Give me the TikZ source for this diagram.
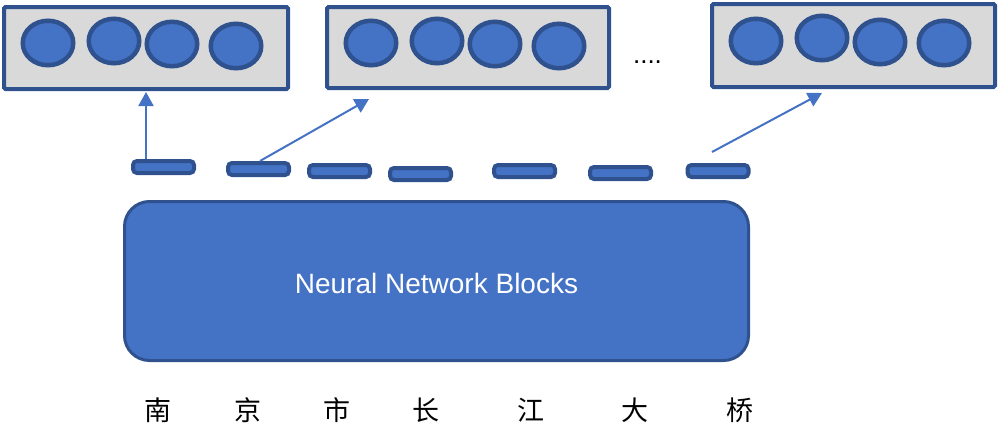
\documentclass[tikz,border=0pt]{standalone}
\usepackage{fontspec}
\setmainfont{Liberation Sans}
\newfontfamily\cjk{Noto Sans CJK SC}
\usetikzlibrary{arrows.meta,shapes.geometric,calc}
\definecolor{blu}{HTML}{4472C4}
\definecolor{dblu}{HTML}{2F528F}
\definecolor{gry}{HTML}{D9D9D9}
\tikzset{
  vecbox/.style={draw=dblu,fill=gry,line width=4pt,rounded corners=1.5pt,minimum width=284pt,minimum height=82pt,inner sep=0pt},
  unit/.style={ellipse,draw=dblu,fill=blu,line width=4.5pt,minimum width=50.5pt,minimum height=44.5pt,inner sep=0pt},
  bar/.style={draw=dblu,fill=blu,line width=4pt,rounded corners=4pt,minimum width=61pt,minimum height=12pt,inner sep=0pt},
  block/.style={draw=dblu,fill=blu,line width=3pt,rounded corners=25pt,minimum width=624pt,minimum height=159pt,inner sep=0pt},
  blocktext/.style={text=white,font=\fontsize{28}{30}\selectfont,inner sep=0pt,anchor=base},
  arr/.style={blu,line width=2pt,-{Triangle[length=14pt,width=15pt]}},
  word/.style={font=\cjk\fontsize{27}{30}\selectfont,inner sep=0pt}
}
\begin{document}
\begin{tikzpicture}[x=1pt,y=-1pt]
\useasboundingbox (0,0) rectangle (998,426);
% vector boxes
\node[vecbox] (box1) at (146,48) {};
\node[vecbox,minimum width=282pt,minimum height=81pt] (box2) at (468,47.5) {};
\node[vecbox,minimum width=283pt,minimum height=83pt] (box3) at (853.5,45.5) {};
% units
\node[unit] (u11) at (48,43) {};
\node[unit] (u12) at (114,41) {};
\node[unit] (u13) at (172,44) {};
\node[unit] (u14) at (236,46) {};
\node[unit] (u21) at (371,43) {};
\node[unit] (u22) at (437,41) {};
\node[unit] (u23) at (495,44) {};
\node[unit] (u24) at (559,46) {};
\node[unit] (u31) at (756,41) {};
\node[unit] (u32) at (822,38) {};
\node[unit] (u33) at (880,42) {};
\node[unit] (u34) at (944,43) {};
% dots
\node[font=\fontsize{26}{28}\selectfont,inner sep=0pt,anchor=base] (dots) at (647.5,63) {....};
% bars
\node[bar] (b1) at (163.5,167) {};
\node[bar] (b2) at (258.5,169) {};
\node[bar] (b3) at (339.5,171) {};
\node[bar] (b4) at (420.5,174) {};
\node[bar] (b5) at (524.5,171) {};
\node[bar] (b6) at (620.5,173) {};
\node[bar] (b7) at (718,171) {};
% arrows
\coordinate (t1) at (146,92);
\coordinate (t2) at (369,99);
\coordinate (s3) at (712,152);
\coordinate (t3) at (822,93);
\draw[arr] ([xshift=-17.5pt]b1.north) -- (t1);
\draw[arr] ([xshift=1.5pt]b2.north) -- (t2);
\draw[arr] (s3) -- (t3);
% block
\node[block] (nn) at (436.5,281) {};
\node[blocktext] (nnt) at (436.5,293) {Neural Network Blocks};
% words
\node[word] (w1) at (158,410) {南};
\node[word] (w2) at (248,410) {京};
\node[word] (w3) at (337,410) {市};
\node[word] (w4) at (426,410) {长};
\node[word] (w5) at (531,410) {江};
\node[word] (w6) at (635,410) {大};
\node[word] (w7) at (740,410) {桥};
\end{tikzpicture}
\end{document}
